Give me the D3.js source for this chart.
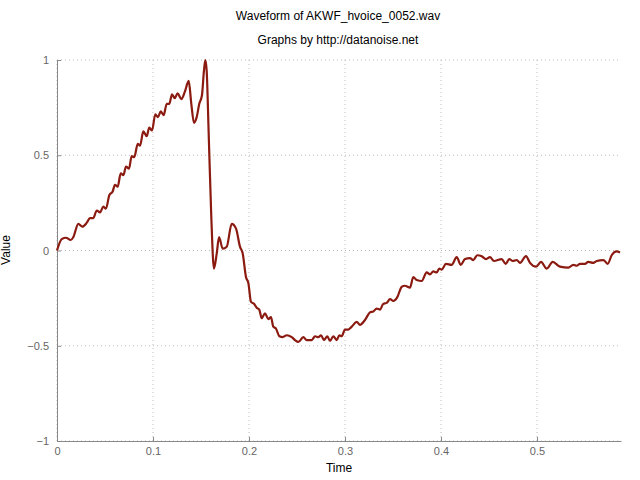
<!DOCTYPE html>
<html><head><meta charset="utf-8">
<script src="https://cdn.jsdelivr.net/npm/d3@7"></script>
<style>body{margin:0;background:#fff}text{font-family:"Liberation Sans",Arial,sans-serif}</style>
</head><body><svg id="c" width="640" height="480"></svg>
<script>
const times=[0,.0049,.0094,.0143,.017,.0222,.0264,.0309,.0344,.0378,.0414,.0448,.0482,.051,.0545,.058,.0604,.0632,.0664,.0691,.0719,.075,.0778,.0805,.0841,.0865,.0899,.0934,.0961,.099,.1024,.1052,.108,.1111,.1143,.117,.1198,.1226,.1257,.1295,.1333,.1372,.1399,.1427,.1455,.1482,.151,.1531,.1545,.1559,.158,.1607,.1635,.1664,.1688,.1726,.1768,.182,.1865,.1906,.1934,.1969,.1993,.2021,.2052,.208,.2107,.2132,.2167,.2201,.2229,.2253,.2281,.2316,.2351,.2393,.2445,.2479,.2514,.2566,.2601,.2653,.2688,.2722,.275,.2781,.2816,.2844,.2878,.2914,.2941,.2966,.3,.3034,.307,.3122,.3156,.3208,.326,.3295,.333,.3365,.3399,.3434,.3469,.3503,.3545,.3591,.3625,.3677,.3711,.3747,.3799,.3851,.3885,.392,.3955,.3982,.4007,.4052,.4111,.4164,.4205,.425,.4302,.4336,.4378,.4424,.4469,.451,.4552,.4632,.4674,.4711,.4747,.4789,.4823,.4885,.4927,.499,.5042,.5101,.5164,.524,.5326,.5378,.5414,.5448,.55,.5534,.5586,.5622,.5691,.5736,.5778,.583,.5865];
const values=[0,.06,.067,.055,.07,.14,.125,.145,.17,.17,.21,.20,.23,.22,.29,.31,.345,.335,.405,.395,.44,.43,.495,.49,.56,.55,.625,.60,.645,.63,.715,.70,.73,.71,.77,.77,.82,.80,.825,.795,.835,.89,.77,.67,.70,.77,.815,.945,1.0,.945,.615,.18,-.095,-.015,.07,.01,.02,.14,.115,.02,-.015,-.14,-.17,-.27,-.28,-.30,-.31,-.355,-.33,-.36,-.35,-.40,-.41,-.45,-.455,-.445,-.455,-.47,-.48,-.455,-.47,-.47,-.45,-.455,-.445,-.47,-.45,-.475,-.45,-.47,-.445,-.45,-.415,-.415,-.40,-.375,-.39,-.365,-.325,-.32,-.305,-.31,-.28,-.275,-.255,-.265,-.245,-.19,-.185,-.195,-.14,-.155,-.16,-.115,-.125,-.11,-.115,-.095,-.10,-.07,-.075,-.035,-.075,-.045,-.04,-.05,-.025,-.03,-.045,-.035,-.055,-.045,-.07,-.045,-.055,-.05,-.065,-.03,-.065,-.085,-.06,-.095,-.06,-.085,-.09,-.075,-.08,-.07,-.07,-.06,-.065,-.055,-.05,-.07,-.025,-.005,-.01];
const xTicks=[0,0.1,0.2,0.3,0.4,0.5];
const yTicks=[-1,-0.5,0,0.5,1];
const svg=d3.select("#c");
const L=57,R=621,T=60,B=441;
const x=d3.scaleLinear().domain([0,0.5875]).range([L,R]);
const y=d3.scaleLinear().domain([-1,1]).range([B,T]);
const grid=svg.append("g").attr("stroke","#bbb").attr("stroke-dasharray","1,3");
xTicks.forEach(t=>grid.append("line").attr("x1",x(t)).attr("x2",x(t)).attr("y1",T).attr("y2",B));
yTicks.forEach(t=>grid.append("line").attr("x1",L).attr("x2",R).attr("y1",y(t)).attr("y2",y(t)));
const xa=svg.append("g").attr("transform",`translate(0,${B})`).call(d3.axisBottom(x).tickValues(xTicks).tickSizeInner(-4).tickSizeOuter(0).tickPadding(6).tickFormat(d3.format("")));
const ya=svg.append("g").attr("transform",`translate(${L},0)`).call(d3.axisLeft(y).tickValues(yTicks).tickSizeInner(-4).tickSizeOuter(0).tickPadding(8).tickFormat(d3.format("")));
[xa,ya].forEach(a=>{a.selectAll("path,line").attr("stroke","#888");a.selectAll("text").attr("fill","#666").attr("font-size",11);});
svg.append("path").datum(times.map((t,i)=>[t,values[i]])).attr("fill","none").attr("stroke","#8b1a10").attr("stroke-width",2.2).attr("stroke-linejoin","round")
 .attr("d",d3.line().x(d=>x(d[0])).y(d=>y(d[1])).curve(d3.curveMonotoneX));
svg.append("text").attr("x",338).attr("y",20).attr("text-anchor","middle").attr("font-size",12).text("Waveform of AKWF_hvoice_0052.wav");
svg.append("text").attr("x",338).attr("y",44).attr("text-anchor","middle").attr("font-size",12).text("Graphs by http://datanoise.net");
svg.append("text").attr("x",339).attr("y",472).attr("text-anchor","middle").attr("font-size",12).text("Time");
svg.append("text").attr("transform","translate(10,250) rotate(-90)").attr("text-anchor","middle").attr("font-size",12).text("Value");
</script></body></html>
